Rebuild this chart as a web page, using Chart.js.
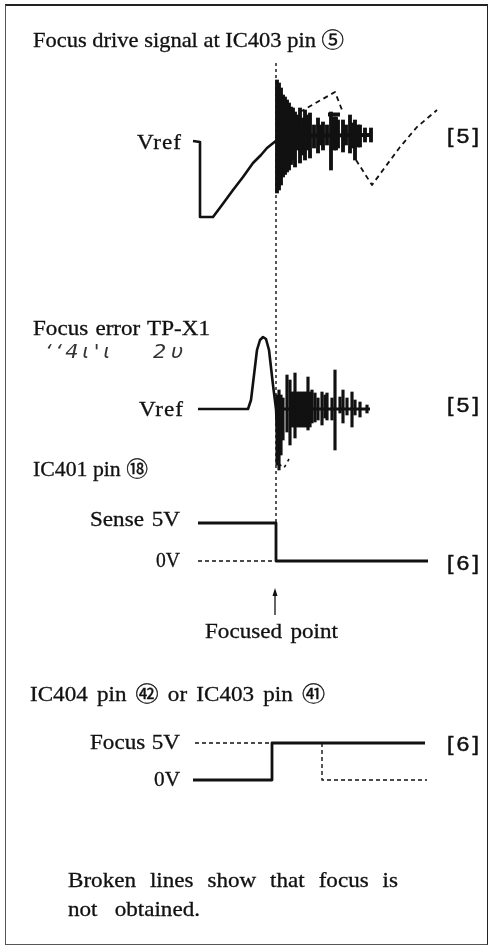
<!DOCTYPE html>
<html>
<head>
<meta charset="utf-8">
<script src="https://cdn.jsdelivr.net/npm/chart.js@4.4.1/dist/chart.umd.min.js"></script>
<style>
  html, body { margin: 0; padding: 0; background: #fff; }
  #stage { position: relative; width: 491px; height: 948px; overflow: hidden; background: #fff; }
  #frame { position: absolute; left: 5px; top: 4px; width: 483px; height: 941px; border: 1px solid #555; border-top-width: 2px; border-top-color: #222; border-right-color: #222; box-sizing: border-box; }
  #plot { position: absolute; left: 0; top: 0; width: 491px; height: 948px; }
  .lbl { position: absolute; white-space: nowrap; line-height: 1; color: #111; transform-origin: 0 0; }
  .serif { font-family: 'Liberation Serif', 'DejaVu Serif', 'Noto Sans CJK JP', serif; -webkit-text-stroke: 0.3px #111; }
  .sans { font-family: 'Liberation Sans', 'DejaVu Sans', sans-serif; -webkit-text-stroke: 0.5px #111; }
  .hand { font-family: 'DejaVu Sans', sans-serif; font-style: italic; color: #333; }
</style>
</head>
<body>
<div id="stage">
  <div id="frame"></div>
  <div id="plot"><canvas id="c" width="491" height="948"></canvas></div>
</div>
<script>
// ---------- DATA (time in arbitrary sweep units, levels in trace units) ----------
const FOCUS_T = 20;                       // focused point on the time sweep

// Focus drive signal at IC403 pin 5 (level relative to Vref)
const driveT = [-0.75, 1.0, 1.0, 4.25, 6.5, 9.25, 11.75, 14.25, 16.25, 17.75, 20.25];
const driveV = [0.04, 0.0, -3.0, -3.0, -2.52, -1.92, -1.4, -0.84, -0.52, -0.24, 0.08];
const driveSpikeT  = [20.25, 20.75, 21.25, 21.75, 22.25, 22.75, 23.25, 23.75, 24.25, 24.75, 25.5, 26, 26.75, 27.25, 28, 28.5, 29.5, 30.5, 31, 31.75, 32.75, 33.75, 34.5, 35, 35.5, 36.75, 37.5, 38.5, 39.25, 39.75, 40.5, 41, 42.25, 43.75];
const driveSpikeHi = [2.48, 2.36, 2.16, 1.88, 1.8, 1.68, 1.56, 1.4, 1.36, 1.2, 1.08, 1.36, 0.96, 1.28, 1.08, 1.16, 0.68, 0.96, 0.68, 0.8, 0.68, 1.2, 1.0, 1.0, 0.88, 0.88, 0.68, 1.08, 0.76, 0.88, 0.68, 0.68, 0.56, 0.56];
const driveSpikeLo = [-2.04, -1.92, -1.72, -1.4, -1.3, -1.2, -1.12, -0.9, -0.72, -1.0, -0.32, -0.84, -0.52, -0.72, -0.32, -0.64, -0.24, -0.44, -0.12, -0.32, -0.12, -1.12, -0.32, -0.32, -0.24, -0.4, -0.12, -0.44, -0.24, -0.72, -0.2, -0.2, 0.0, 0.0];
const driveCoreT = [20.25, 43.75];
const driveCoreV = [0.24, 0.28];
const driveCapT = [33, 36];
const driveCapV = [1.1, 1.1];
const driveLostT = [26, 34.75, 36.5, 38, 40, 44, 46.75, 51, 55.25, 60.25];
const driveLostV = [1.2, 2.0, 1.28, null, -0.72, -1.72, -1.12, -0.2, 0.6, 1.28];

// Focus error TP-X1 (level relative to Vref)
const errT = [0.5, 13, 13.75, 15.25, 16, 16.75, 17.5, 18.25, 19.25, 20, 20.5];
const errV = [0, 0, 0.36, 2.36, 2.76, 2.88, 2.8, 2.36, 0.96, 0, -1.6];
const errSpikeT  = [20.25, 20.75, 21.25, 21.75, 22.75, 23.5, 24, 24.5, 24.75, 25.25, 25.75, 26.25, 26.75, 27.25, 27.75, 28, 28.5, 29, 29.75, 30.5, 31.5, 32.25, 32.75, 34, 34.75, 36, 36.75, 37.75, 39, 39.75, 41, 42.75];
const errSpikeHi = [0.56, 0.76, 0.56, 0.44, 1.36, 1.16, 0.68, 0.68, 1.44, 0.68, 0.68, 0.68, 0.68, 0.68, 0.68, 1.28, 0.68, 0.76, 0.64, 0.44, 0.68, 0.56, 0.64, 0.44, 1.56, 0.48, 0.76, 0.44, 0.68, 0.36, 0.28, 0.16];
const errSpikeLo = [-2.24, -2.44, -1.84, -1.24, -0.92, -1.44, -0.72, -0.72, -1.16, -0.72, -0.72, -0.72, -0.72, -0.72, -0.72, -0.84, -0.72, -0.56, -0.52, -0.44, -0.64, -0.36, -0.44, -0.44, -1.64, -0.16, -0.56, -0.24, -0.72, -0.24, -0.32, -0.16];
const errCoreT = [20, 43.5];
const errCoreV = [0, 0];
const errLostT = [20.75, 22, 23.25];
const errLostV = [-2.2, -2.36, -2.0];

// IC401 pin 18 (volts)
const senseT = [0.5, 20, 20, 58];
const senseV = [5, 5, 0, 0];
const senseLostT = [0.5, 20];
const senseLostV = [0, 0];

// IC404 pin 42 / IC403 pin 41 (volts)
const focusT = [-0.75, 19, 19, 57.25];
const focusV = [0, 0, 5, 5];
const focusLostT = [-0.25, 19, 25, 31.5, 31.5, 57.75];
const focusLostV = [5, 5, null, 5, 0, 0];

// focus marker / arrow extents (in drive and sense units)
const MARK_TOP = 3.16;
const ARROW_TIP = -3.55, ARROW_TAIL = -7.1;

// ---------- LABELS ----------
// [text, class, size, x, baseline, align, width]
const labels = [
  ['Focus drive signal at IC403 pin \u2464', 'serif', 21, 33, 48, 'left', 311],
  ['Vref', 'serif', 21, 181, 150, 'right', 44],
  ['[5]', 'sans', 21, 447, 143, 'left', 32],
  ['Focus error TP-X1', 'serif', 21, 33, 336, 'left', 177],
  ['\u2018\u20184\u0269\'\u0269', 'hand', 19, 45, 358, 'left', 66],
  ['2\u03c5', 'hand', 19, 153, 358, 'left', 30],
  ['Vref', 'serif', 21, 183, 417, 'right', 44],
  ['[5]', 'sans', 21, 447, 412, 'left', 32],
  ['IC401 pin \u2471', 'serif', 21, 33, 477, 'left', 115],
  ['Sense 5V', 'serif', 21, 180, 527, 'right', 90],
  ['0V', 'serif', 21, 180, 568, 'right', 24],
  ['[6]', 'sans', 21, 447, 570, 'left', 32],
  ['Focused point', 'serif', 21, 205, 639, 'left', 133],
  ['IC404 pin \u32B7 or IC403 pin \u32B6', 'serif', 21, 30, 702, 'left', 295],
  ['Focus 5V', 'serif', 21, 180, 750, 'right', 90],
  ['[6]', 'sans', 21, 447, 751, 'left', 32],
  ['0V', 'serif', 21, 180, 787, 'right', 26],
  ['Broken lines show that focus is', 'serif', 21, 68, 888, 'left', 330],
  ['not obtained.', 'serif', 21, 68, 917, 'left', 132]
];

// ---------- BUILD ----------
const INK = '#111';
const W = 491, H = 948;
function band(zeroPx, pxPerUnit) { return { min: -(H - zeroPx) / pxPerUnit, max: zeroPx / pxPerUnit }; }
const pts = (T, V) => T.map((t, i) => ({ x: t, y: V[i] }));
const bars = (T, Hi, Lo) => T.map((t, i) => ({ x: t, y: [Lo[i], Hi[i]] }));

function line(data, axis, width, dash) {
  return { type: 'line', data, yAxisID: axis, borderColor: INK, borderWidth: width,
           borderDash: dash || [], pointRadius: 0, tension: 0, fill: false, spanGaps: false,
           borderCapStyle: 'butt', borderJoinStyle: 'round' };
}
function spikes(data, axis, thick) {
  return { type: 'bar', data, yAxisID: axis, backgroundColor: INK, barThickness: thick,
           grouped: false, borderWidth: 0, borderSkipped: false };
}

const datasets = [
  line(pts(driveT, driveV), 'yDrive', 2.6),
  spikes(bars(driveSpikeT, driveSpikeHi, driveSpikeLo), 'yDrive', 3.2),
  line(pts(driveCoreT, driveCoreV), 'yDrive', 4),
  line(pts(driveCapT, driveCapV), 'yDrive', 4),
  line(pts(driveLostT, driveLostV), 'yDrive', 1.8, [5, 4]),
  line(pts(errT, errV), 'yErr', 2.6),
  spikes(bars(errSpikeT, errSpikeHi, errSpikeLo), 'yErr', 2.5),
  line(pts(errCoreT, errCoreV), 'yErr', 3),
  line(pts(errLostT, errLostV), 'yErr', 1.6, [3, 4]),
  line(pts(senseT, senseV), 'ySense', 2.8),
  line(pts(senseLostT, senseLostV), 'ySense', 1.4, [4, 3]),
  line(pts(focusT, focusV), 'yFocus', 2.8),
  line(pts(focusLostT, focusLostV), 'yFocus', 1.4, [4, 3])
];

const focusMarker = {
  id: 'focusMarker',
  beforeDatasetsDraw(chart) {
    const { ctx, scales } = chart;
    const px = scales.x.getPixelForValue(FOCUS_T);
    ctx.save();
    ctx.strokeStyle = INK; ctx.lineWidth = 1.4; ctx.setLineDash([3, 3]);
    ctx.beginPath();
    ctx.moveTo(px, scales.yDrive.getPixelForValue(MARK_TOP));
    ctx.lineTo(px, scales.ySense.getPixelForValue(5));
    ctx.stroke();
    ctx.restore();
  },
  afterDatasetsDraw(chart) {
    const { ctx, scales } = chart;
    const px = scales.x.getPixelForValue(FOCUS_T) - 1;
    const tip = scales.ySense.getPixelForValue(ARROW_TIP);
    const tail = scales.ySense.getPixelForValue(ARROW_TAIL);
    ctx.save();
    ctx.strokeStyle = INK; ctx.fillStyle = INK; ctx.lineWidth = 1.3;
    ctx.beginPath(); ctx.moveTo(px, tail); ctx.lineTo(px, tip + 4); ctx.stroke();
    ctx.beginPath(); ctx.moveTo(px, tip); ctx.lineTo(px - 2.5, tip + 8); ctx.lineTo(px + 2.5, tip + 8); ctx.closePath(); ctx.fill();
    ctx.restore();
  }
};

new Chart(document.getElementById('c'), {
  type: 'line',
  data: { datasets },
  options: {
    responsive: false,
    animation: false,
    devicePixelRatio: 1,
    layout: { padding: 0 },
    plugins: { legend: { display: false }, tooltip: { enabled: false } },
    events: [],
    scales: {
      x: { type: 'linear', min: -196 / 4, max: (W - 196) / 4, display: false, offset: false },
      yDrive: { type: 'linear', position: 'left', display: false, ...band(142, 25) },
      yErr:   { type: 'linear', position: 'left', display: false, ...band(409, 25) },
      ySense: { type: 'linear', position: 'left', display: false, ...band(561, 7.6) },
      yFocus: { type: 'linear', position: 'left', display: false, ...band(780, 7.4) }
    }
  },
  plugins: [focusMarker]
});

// ---------- TEXT ----------
// glyphs are widened a little (the printed face is broader than Times); leftover width goes into spacing
const stage = document.getElementById('stage');
const MAX_SCALE = 1.1, DEFAULT_SCALE = 1.07;
labels.forEach(([text, cls, size, x, base, align, width]) => {
  const el = document.createElement('div');
  el.className = 'lbl ' + cls;
  el.textContent = text;
  el.style.fontSize = size + 'px';
  stage.appendChild(el);
  const nat = el.getBoundingClientRect().width;
  let s = DEFAULT_SCALE, vis = nat * s;
  if (width) {
    s = Math.min(width / nat, MAX_SCALE);
    vis = nat * s;
    const rest = width - vis;
    if (rest > 0.5) {
      const spaces = (text.match(/ /g) || []).length;
      if (spaces > 0) el.style.wordSpacing = (rest / (s * spaces)) + 'px';
      else el.style.letterSpacing = (rest / (s * Math.max(1, Array.from(text).length - 1))) + 'px';
    }
    vis = width;
  }
  el.style.transform = 'scaleX(' + s + ')';
  const left = align === 'right' ? x - vis : align === 'center' ? x - vis / 2 : x;
  el.style.left = left + 'px';
  el.style.top = (base - 0.84 * size) + 'px';
});
</script>
</body>
</html>
